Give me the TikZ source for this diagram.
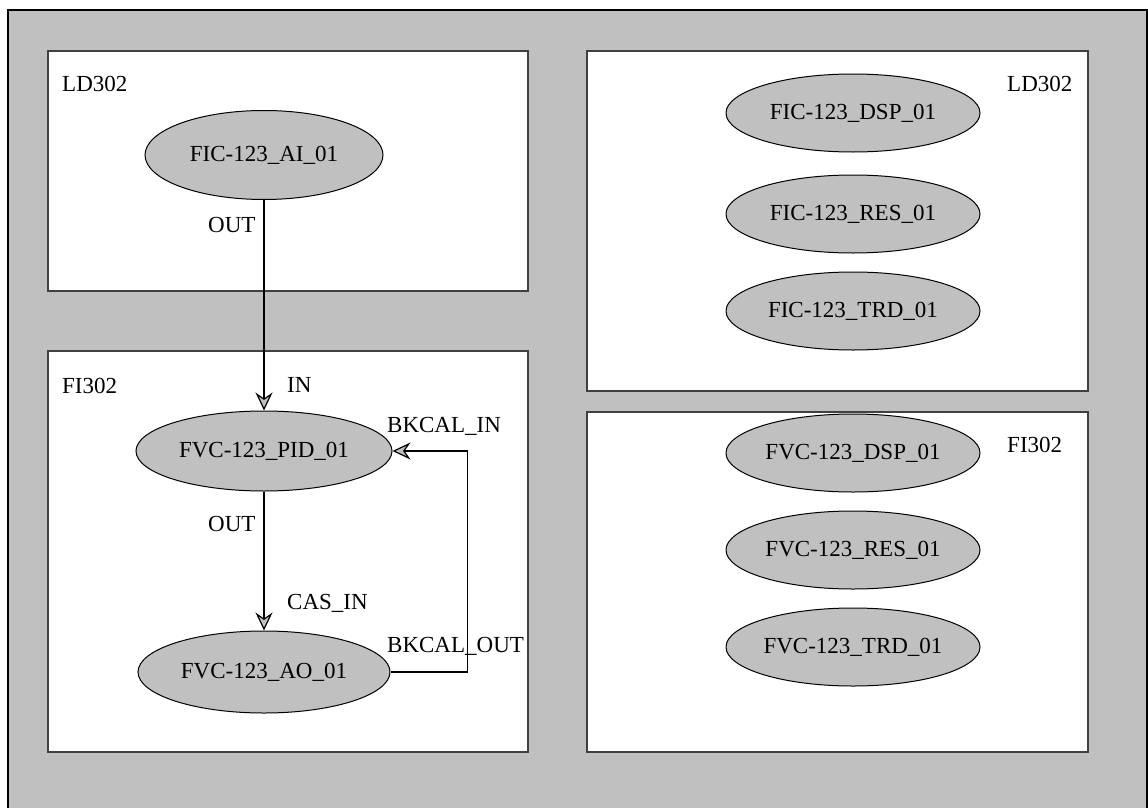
\documentclass[tikz,border=0pt]{standalone}
\usepackage{fontspec}
\setmainfont{Liberation Serif}
\usetikzlibrary{shapes.geometric,arrows.meta,positioning}
\definecolor{panelcolor}{RGB}{192,192,192}
\definecolor{blockcolor}{RGB}{192,192,192}
\definecolor{framecolor}{RGB}{64,64,64}
\tikzset{
    device/.style={
        rectangle,
        draw=framecolor,
        line width=2pt,
        fill=white,
        inner sep=0pt
    },
    block/.style={
        ellipse,
        draw=black,
        line width=1pt,
        fill=blockcolor,
        inner sep=0pt,
        minimum width=254pt,
        minimum height=78pt,
        font=\fontsize{23}{26}\selectfont
    },
    tag/.style={anchor=base west, inner sep=0pt, font=\fontsize{23}{26}\selectfont},
    link/.style={draw=black, line width=1.2pt, -{Stealth[length=18pt,width=17pt,inset=6pt,fill=blockcolor]}}
}
\begin{document}
\begin{tikzpicture}[x=1pt,y=-1pt]
    \useasboundingbox[fill=white] (0,0) rectangle (1148,808);
    % Panel
    \draw[fill=panelcolor, line width=1.5pt] (8,10) rectangle (1147,830);

    % Devices
    \node[device, minimum width=480pt, minimum height=240pt] (ldleft) at (288,171) {};
    \node[device, minimum width=480pt, minimum height=401pt] (fileft) at (288,551.5) {};
    \node[device, minimum width=501pt, minimum height=340pt] (ldright) at (837.5,221) {};
    \node[device, minimum width=501pt, minimum height=340pt] (firight) at (837.5,582) {};
    \node[tag] (ldlefttag) at (62,92) {LD302};
    \node[tag] (filefttag) at (62,393) {FI302};
    \node[tag] (ldrighttag) at (1007,92) {LD302};
    \node[tag] (firighttag) at (1007,452) {FI302};

    % Blocks
    \node[block, minimum width=238pt, minimum height=89pt] (ai) at (264,155) {FIC-123\_AI\_01};
    \node[block, minimum width=256pt, minimum height=80pt] (pid) at (264,451) {FVC-123\_PID\_01};
    \node[block, minimum width=252pt, minimum height=82pt] (ao) at (264,672) {FVC-123\_AO\_01};

    \node[block] (ficdsp) at (853,113) {FIC-123\_DSP\_01};
    \node[block] (ficres) at (853,214) {FIC-123\_RES\_01};
    \node[block] (fictrd) at (853,311) {FIC-123\_TRD\_01};
    \node[block] (fvcdsp) at (853,453) {FVC-123\_DSP\_01};
    \node[block] (fvcres) at (853,550) {FVC-123\_RES\_01};
    \node[block] (fvctrd) at (853,647) {FVC-123\_TRD\_01};

    % Links
    \draw[link] (ai) -- (pid);
    \draw[link] (pid) -- (ao);
    \draw[link] (ao.east) -- ++(77,0) |- (pid.east);

    % Ports
    \node[tag] (aiout) at (208,232) {OUT};
    \node[tag] (pidin) at (287,392) {IN};
    \node[tag] (pidbk) at (387,432) {BKCAL\_IN};
    \node[tag] (pidout) at (208,531) {OUT};
    \node[tag] (aocas) at (287,609) {CAS\_IN};
    \node[tag] (aobk) at (387,652) {BKCAL\_OUT};
\end{tikzpicture}
\end{document}
